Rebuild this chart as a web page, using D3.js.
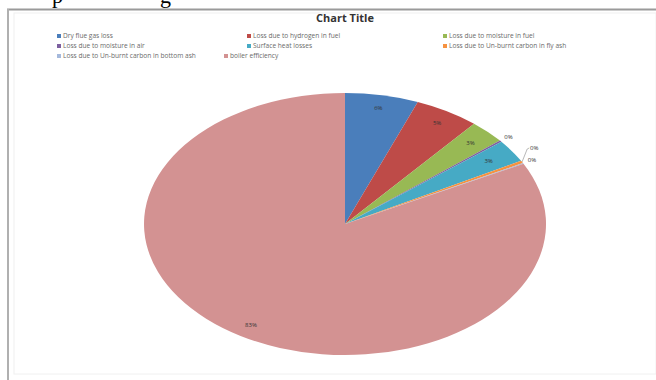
<!DOCTYPE html>
<html><head><meta charset="utf-8">
<script src="https://cdn.jsdelivr.net/npm/d3@7"></script>
<style>body{margin:0;background:#fff;}svg{display:block;}</style>
</head><body>
<script>
const categories = ["Dry flue gas loss","Loss due to hydrogen in fuel","Loss due to moisture in fuel","Loss due to moisture in air","Surface heat losses","Loss due to Un-burnt carbon in fly ash","Loss due to Un-burnt carbon in bottom ash","boiler efficiency"];
const values = [5.9, 5.2, 2.9, 0.2, 2.8, 0.3, 0.1, 82.6];
const colors = ["#4A7EBB","#BE4B48","#98B954","#7D60A0","#46AAC5","#F69240","#A5B9DC","#D39292"];

const W = 656, H = 380;
const svg = d3.select("body").append("svg").attr("width", W).attr("height", H);

// document fragment cut at top
svg.append("text").attr("x", 52).attr("y", 3).attr("font-family","Liberation Serif").attr("font-size", 22).text("p");
svg.append("text").attr("x", 160).attr("y", 3).attr("font-family","Liberation Serif").attr("font-size", 22).text("g");

// frame
svg.append("line").attr("x1", 7).attr("x2", W).attr("y1", 9.5).attr("y2", 9.5).attr("stroke", "#9a9a9a").attr("stroke-width", 2);
svg.append("line").attr("x1", 8).attr("x2", 8).attr("y1", 9).attr("y2", H).attr("stroke", "#b0b0b0").attr("stroke-width", 2);
svg.append("rect").attr("x", 14).attr("y", 13).attr("width", W - 14).attr("height", H - 19).attr("fill", "none").attr("stroke", "#f0f0f0");

svg.append("text").attr("x", 345).attr("y", 22).attr("text-anchor", "middle")
  .attr("font-family", "Open Sans, sans-serif").attr("font-weight", "bold").attr("font-size", 11).attr("fill", "#333")
  .text("Chart Title");

// legend
const legX = [57, 247, 443], legY = [36, 46, 56];
const leg = svg.append("g").attr("font-family", "Open Sans, sans-serif").attr("font-size", 6.6).attr("fill", "#6a6a6a");
categories.forEach((c, i) => {
  let col = i % 3, row = Math.floor(i / 3);
  let x = legX[col], y = legY[row];
  if (i === 7) { x = 224; }
  leg.append("rect").attr("x", x).attr("y", y - 2).attr("width", 4).attr("height", 4).attr("fill", colors[i]);
  leg.append("text").attr("x", x + 6).attr("y", y + 2.3).text(c);
});

// pie as ellipse
const cx = 345, cy = 224, rx = 201, ry = 131;
const pie = d3.pie().sort(null).value(d => d)(values);
const arc = d3.arc().innerRadius(0).outerRadius(1);
const g = svg.append("g").attr("transform", `translate(${cx},${cy}) scale(${rx},${ry})`);
g.selectAll("path").data(pie).enter().append("path")
  .attr("d", arc).attr("fill", (d, i) => colors[i]);

const total = d3.sum(values);
const lab = svg.append("g").attr("font-family", "Open Sans, sans-serif").attr("font-size", 6).attr("fill", "#333").attr("text-anchor", "middle");
pie.forEach((d, i) => {
  const a = (d.startAngle + d.endAngle) / 2;
  const pct = Math.round(d.value / total * 100) + "%";
  let r = 0.9, dyAdj = 0, dxAdj = 0, leader = false;
  if (d.value / total < 0.01) {
    r = 1.05;
    if (i === 5) { r = 1.08; dyAdj = -9; dxAdj = -2; leader = true; }
    if (i === 6) { r = 1.06; dyAdj = 0; dxAdj = -2; }
  }
  if (i === 2) r = 0.88;
  if (i === 4) r = 0.86;
  const x = cx + Math.sin(a) * rx * r + dxAdj;
  const y = cy - Math.cos(a) * ry * r + dyAdj;
  if (leader) {
    const ex = cx + Math.sin(a) * rx, ey = cy - Math.cos(a) * ry;
    svg.append("polyline").attr("points", `${ex},${ey} ${x - 7},${y + 1} ${x - 5},${y}`)
      .attr("fill", "none").attr("stroke", "#888").attr("stroke-width", 0.6);
  }
  lab.append("text").attr("x", x).attr("y", y + 2).text(pct);
});
</script>
</body></html>
